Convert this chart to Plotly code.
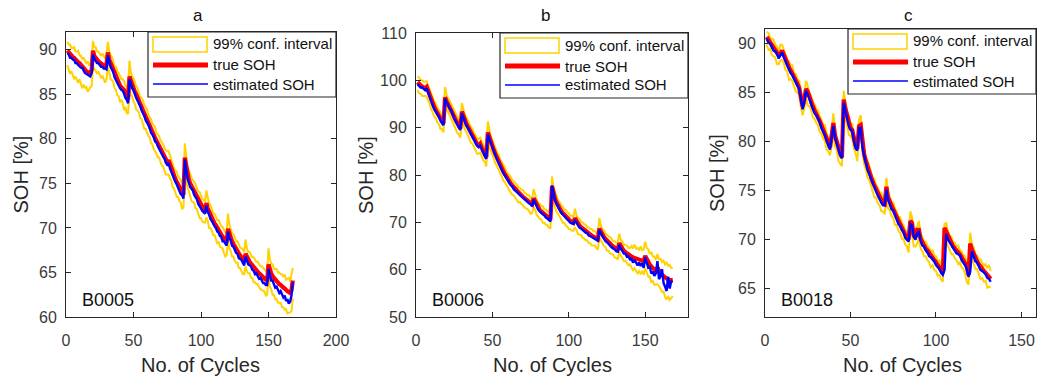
import plotly.graph_objects as go

W, H = 1038, 379
FONT = "Liberation Sans, Arial, sans-serif"
AXIS_COLOR = "#262626"
YELLOW = "#FFD200"

# ---------------- B0005 ----------------
soh_true_a = [
    89.9, 89.7, 89.5, 89.4, 89.2, 89.1, 88.9, 88.8, 88.6, 88.5,
    88.3, 88.2, 88.0, 87.8, 87.6, 87.5, 87.4, 87.4, 87.7, 89.9,
    89.3, 89.0, 88.9, 88.7, 88.6, 88.5, 88.4, 88.2, 88.1, 88.3,
    89.7, 88.9, 88.5, 88.1, 87.7, 87.3, 86.9, 86.6, 86.3, 86.0,
    85.8, 85.6, 85.5, 85.1, 84.7, 84.4, 87.0, 86.5, 86.1, 85.7,
    85.3, 85.0, 84.6, 84.3, 83.9, 83.6, 83.2, 82.9, 82.5, 82.2,
    81.8, 81.5, 81.1, 80.8, 80.5, 80.1, 79.8, 79.5, 79.2, 78.9,
    78.6, 78.3, 78.0, 77.7, 77.4, 77.6, 77.1, 76.6, 76.2, 75.8,
    75.5, 75.2, 74.9, 74.6, 74.3, 74.0, 73.7, 77.9, 76.8, 75.9,
    75.4, 75.0, 74.7, 74.4, 74.1, 73.8, 73.5, 73.1, 72.8, 72.5,
    72.3, 72.1, 71.9, 72.8, 72.2, 71.8, 71.5, 71.1, 70.8, 70.5,
    70.3, 70.0, 69.8, 69.5, 69.3, 69.0, 68.8, 68.6, 68.4, 69.9,
    69.3, 68.9, 68.5, 68.2, 67.9, 67.6, 67.4, 67.1, 66.9, 66.7,
    66.5, 66.3, 67.1, 66.7, 66.4, 66.2, 66.0, 65.8, 65.6, 65.4,
    65.3, 65.1, 64.9, 64.8, 64.6, 64.5, 64.3, 64.2, 64.0, 65.9,
    65.3, 64.9, 64.6, 64.4, 64.2, 64.0, 63.9, 63.7, 63.6, 63.4,
    63.3, 63.2, 63.0, 62.9, 62.8, 62.7, 63.0, 64.1,
]
# estimation error (estimated - true)
est_err_a = [
    -0.3, -0.2, -0.4, -0.3, -0.3, -0.2, -0.4, -0.3, -0.3, -0.4,
    -0.3, -0.2, -0.3, -0.4, -0.3, -0.3, -0.2, -0.4, -0.3, -0.4,
    -0.3, -0.3, -0.4, -0.2, -0.3, -0.4, -0.3, -0.3, -0.2, -0.5,
    -0.3, -0.3, -0.4, -0.3, -0.2, -0.4, -0.3, -0.3, -0.4, -0.3,
    -0.3, -0.2, -0.4, -0.5, -0.3, -0.4, -0.3, -0.3, -0.4, -0.2,
    -0.3, -0.4, -0.3, -0.3, -0.2, -0.4, -0.3, -0.3, -0.4, -0.3,
    -0.2, -0.3, -0.4, -0.3, -0.3, -0.4, -0.2, -0.3, -0.3, -0.4,
    -0.3, -0.3, -0.2, -0.4, -0.3, -0.3, -0.4, -0.3, -0.2, -0.4,
    -0.3, -0.3, -0.4, -0.3, -0.5, -0.3, -0.4, -0.2, -0.4, -0.3,
    -0.3, -0.4, -0.3, -0.2, -0.4, -0.3, -0.3, -0.4, -0.3, -0.3,
    -0.4, -0.3, -0.3, -0.3, -0.4, -0.3, -0.5, -0.3, -0.4, -0.3,
    -0.3, -0.4, -0.3, -0.4, -0.3, -0.5, -0.3, -0.4, -0.4, -0.3,
    -0.4, -0.3, -0.5, -0.3, -0.4, -0.4, -0.3, -0.5, -0.4, -0.3,
    -0.4, -0.5, -0.3, -0.4, -0.5, -0.4, -0.3, -0.5, -0.4, -0.6,
    -0.4, -0.5, -0.6, -0.4, -0.5, -0.7, -0.5, -0.6, -0.4, -0.5,
    -0.6, -0.8, -0.5, -0.7, -0.9, -0.6, -0.8, -1.0, -0.7, -0.9,
    -1.1, -0.8, -1.2, -0.9, -1.3, -1.0, -0.6, -0.2,
]
# 99% interval bounds, distance above / below the true curve
ci_up_a = [
    1.0, 0.9, 1.1, 0.8, 1.0, 1.2, 0.9, 1.0, 1.3, 0.9,
    1.0, 0.8, 1.1, 1.0, 0.9, 1.2, 0.9, 1.0, 1.4, 1.1,
    1.0, 1.3, 0.9, 1.1, 1.0, 0.8, 1.2, 1.0, 0.9, 1.3,
    1.2, 1.0, 0.9, 1.1, 1.0, 0.8, 1.2, 0.9, 1.1, 1.0,
    0.9, 1.1, 1.0, 0.9, 1.2, 1.0, 1.8, 1.0, 0.9, 1.1,
    1.0, 0.9, 1.1, 1.0, 0.8, 1.0, 1.1, 0.9, 1.0, 1.1,
    0.9, 1.0, 1.1, 0.9, 1.0, 1.2, 0.9, 1.0, 1.1, 0.9,
    1.0, 1.1, 0.9, 1.0, 1.2, 1.0, 0.9, 1.1, 1.0, 0.9,
    1.0, 1.1, 0.9, 1.0, 1.1, 1.0, 1.0, 1.6, 1.1, 0.9,
    1.0, 1.1, 0.9, 1.0, 1.0, 1.1, 0.9, 1.0, 1.2, 1.0,
    0.9, 1.1, 1.0, 1.4, 1.0, 0.9, 1.1, 1.0, 0.9, 1.1,
    1.0, 0.9, 1.1, 1.0, 0.9, 1.1, 1.0, 0.9, 1.0, 1.7,
    1.1, 1.0, 0.9, 1.1, 1.0, 0.9, 1.1, 1.0, 0.9, 1.0,
    1.1, 1.0, 1.6, 1.0, 0.9, 1.1, 1.0, 0.9, 1.1, 1.0,
    0.9, 1.1, 1.0, 0.9, 1.1, 1.0, 1.1, 0.9, 1.0, 1.8,
    1.2, 1.1, 1.3, 1.0, 1.2, 1.4, 1.1, 1.3, 1.2, 1.4,
    1.3, 1.5, 1.2, 1.4, 1.6, 1.3, 1.8, 1.4,
]
ci_lo_a = [
    1.6, 1.9, 2.2, 1.8, 2.0, 2.4, 1.9, 2.1, 2.3, 1.8,
    2.0, 2.5, 1.9, 2.1, 1.7, 2.2, 1.9, 1.6, 1.8, 1.7,
    1.5, 1.3, 1.6, 1.2, 1.4, 1.7, 1.3, 1.5, 1.8, 1.6,
    1.6, 1.4, 1.8, 1.5, 1.3, 1.6, 1.4, 1.7, 1.5, 1.9,
    1.4, 1.6, 2.3, 1.5, 1.8, 1.6, 1.4, 1.6, 1.3, 1.5,
    1.4, 1.7, 1.5, 1.3, 1.6, 1.4, 1.5, 1.8, 1.4, 1.6,
    1.5, 1.3, 1.6, 1.4, 1.7, 1.5, 1.4, 1.6, 1.3, 1.5,
    1.6, 1.4, 1.5, 1.7, 1.4, 1.6, 1.5, 1.3, 1.6, 1.4,
    1.5, 1.7, 1.4, 1.6, 1.5, 1.9, 1.4, 1.5, 1.6, 1.3,
    1.5, 1.4, 1.7, 1.5, 1.3, 1.6, 1.4, 1.5, 1.7, 1.4,
    1.6, 1.5, 1.3, 1.6, 1.4, 1.8, 1.5, 1.4, 1.6, 1.3,
    1.5, 1.7, 1.4, 1.6, 1.5, 1.3, 1.6, 1.8, 1.5, 1.4,
    1.6, 1.5, 1.7, 1.4, 1.6, 1.5, 1.3, 1.6, 1.4, 1.5,
    1.7, 1.5, 1.4, 1.6, 1.5, 1.3, 1.6, 1.4, 1.7, 1.5,
    1.6, 1.4, 1.5, 1.7, 1.5, 1.6, 1.4, 1.8, 1.5, 1.4,
    1.9, 1.8, 2.1, 1.9, 2.2, 2.0, 2.3, 2.1, 2.0, 2.3,
    2.2, 2.4, 2.1, 2.5, 2.3, 2.1, 2.4, 2.0,
]

# ---------------- B0006 ----------------
soh_true_b = [
    99.6, 99.2, 98.9, 98.7, 98.5, 98.3, 98.6, 97.6, 96.6, 95.8,
    95.0, 94.3, 93.7, 93.0, 92.5, 91.9, 91.4, 90.9, 96.4, 95.6,
    95.0, 94.4, 93.9, 93.0, 92.3, 91.6, 91.0, 90.4, 89.8, 93.4,
    92.4, 91.6, 90.8, 90.2, 89.5, 88.9, 88.3, 87.7, 87.1, 86.5,
    86.2, 86.6, 85.8, 85.1, 84.5, 83.7, 89.0, 87.9, 86.9, 86.0,
    85.2, 84.4, 83.6, 82.9, 82.2, 81.5, 80.9, 80.3, 79.7, 79.1,
    78.7, 78.2, 77.8, 77.4, 77.0, 76.6, 76.3, 76.0, 75.7, 75.4,
    75.1, 74.8, 74.5, 74.3, 74.0, 73.8, 75.1, 74.4, 73.5, 73.0,
    72.6, 72.3, 72.0, 71.7, 71.4, 71.1, 70.8, 70.6, 77.6, 76.0,
    75.0, 74.2, 73.5, 72.9, 72.4, 72.0, 71.6, 71.2, 70.9, 70.6,
    70.3, 70.1, 69.9, 70.9, 70.2, 69.7, 69.3, 69.0, 68.7, 68.4,
    68.1, 67.9, 67.6, 67.4, 67.2, 67.0, 66.8, 66.6, 66.5, 68.7,
    68.0, 67.4, 66.9, 66.5, 66.1, 65.8, 65.5, 65.2, 64.9, 64.6,
    64.4, 64.2, 65.6, 64.9, 64.4, 64.0, 63.7, 63.4, 63.2, 63.0,
    62.8, 62.6, 62.5, 62.3, 62.2, 62.1, 62.0, 61.9, 61.8, 62.9,
    62.2, 61.6, 61.1, 60.7, 60.3, 60.0, 59.7, 60.4, 59.6, 59.2,
    58.9, 58.6, 58.3, 58.1, 57.9, 57.8, 57.8, 57.8,
]
est_err_b = [
    -0.4, -0.3, -0.4, -0.2, -0.3, -0.4, -0.3, -0.3, -0.4, -0.2,
    -0.3, -0.4, -0.3, -0.3, -0.2, -0.4, -0.3, -0.4, -0.3, -0.3,
    -0.4, -0.3, -0.2, -0.4, -0.3, -0.3, -0.4, -0.3, -0.3, -0.4,
    -0.3, -0.2, -0.4, -0.3, -0.3, -0.4, -0.3, -0.2, -0.4, -0.3,
    -0.3, -0.4, -0.3, -0.3, -0.4, -0.3, -0.4, -0.3, -0.3, -0.2,
    -0.4, -0.3, -0.3, -0.4, -0.3, -0.2, -0.4, -0.3, -0.3, -0.4,
    -0.3, -0.3, -0.2, -0.4, -0.3, -0.3, -0.4, -0.3, -0.2, -0.4,
    -0.3, -0.3, -0.4, -0.3, -0.2, -0.4, -0.3, -0.3, -0.4, -0.3,
    -0.3, -0.4, -0.3, -0.2, -0.4, -0.3, -0.3, -0.4, 0.2, -0.3,
    -0.4, -0.3, -0.3, -0.2, -0.4, -0.3, -0.3, -0.4, -0.3, -0.3,
    -0.4, -0.3, -0.2, -0.4, -0.3, -0.3, -0.4, -0.3, -0.3, -0.4,
    -0.3, -0.2, -0.4, -0.3, -0.3, -0.4, -0.3, -0.3, -0.4, -0.3,
    -0.4, -0.3, -0.3, -0.5, -0.3, -0.4, -0.3, -0.5, -0.4, -0.3,
    -0.5, -0.4, -0.3, -0.5, -0.4, -0.6, -0.3, -0.7, -0.4, -0.8,
    -0.5, -1.1, -0.4, -0.9, -1.3, -0.6, -1.2, -0.5, -1.4, -0.3,
    -0.8, -1.2, -0.5, -1.5, -0.7, -1.3, -0.4, 1.4, -1.6, -0.6,
    1.2, -1.4, -1.9, -2.6, 0.6, -1.8, -0.3, -0.4,
]
ci_up_b = [
    1.2, 1.4, 1.1, 1.3, 1.2, 1.5, 1.2, 1.3, 1.4, 1.1,
    1.3, 1.2, 1.4, 1.1, 1.3, 1.2, 1.5, 1.2, 2.2, 1.3,
    1.2, 1.4, 1.1, 1.3, 1.2, 1.4, 1.1, 1.3, 1.2, 1.8,
    1.3, 1.2, 1.4, 1.1, 1.3, 1.2, 1.4, 1.1, 1.3, 1.2,
    1.4, 1.3, 1.1, 1.3, 1.2, 1.4, 2.3, 1.3, 1.2, 1.4,
    1.1, 1.3, 1.2, 1.4, 1.1, 1.3, 1.2, 1.4, 1.1, 1.3,
    1.2, 1.4, 1.1, 1.3, 1.2, 1.4, 1.1, 1.3, 1.2, 1.4,
    1.1, 1.3, 1.2, 1.4, 1.1, 1.3, 1.9, 1.2, 1.3, 1.1,
    1.3, 1.2, 1.4, 1.1, 1.3, 1.2, 1.4, 1.1, 2.1, 1.4,
    1.2, 1.3, 1.1, 1.4, 1.2, 1.3, 1.1, 1.4, 1.2, 1.3,
    1.1, 1.3, 1.2, 2.0, 1.3, 1.2, 1.4, 1.1, 1.3, 1.2,
    1.4, 1.1, 1.3, 1.2, 1.4, 1.1, 1.3, 1.2, 1.4, 2.2,
    1.3, 1.2, 1.4, 1.1, 1.3, 1.2, 1.4, 1.3, 1.2, 1.4,
    1.3, 1.5, 2.0, 1.4, 1.6, 1.3, 1.5, 1.7, 1.4, 1.6,
    2.2, 1.9, 2.8, 2.1, 2.4, 2.0, 2.9, 2.2, 2.5, 3.0,
    2.4, 2.7, 2.2, 3.0, 2.5, 2.8, 2.3, 2.9, 2.6, 3.1,
    2.7, 3.3, 2.8, 3.4, 2.9, 3.2, 2.6, 2.4,
]
ci_lo_b = [
    1.6, 1.9, 1.7, 2.0, 1.8, 1.6, 2.1, 1.8, 1.7, 1.9,
    1.8, 2.0, 1.7, 1.9, 1.8, 2.2, 1.7, 1.9, 1.8, 1.6,
    1.9, 1.7, 2.0, 1.8, 1.9, 1.7, 2.1, 1.8, 1.9, 1.7,
    1.8, 2.0, 1.7, 1.9, 1.8, 2.1, 1.7, 1.9, 1.8, 2.0,
    1.7, 1.9, 1.8, 2.0, 1.7, 1.9, 1.8, 2.1, 1.7, 1.9,
    1.8, 2.0, 1.7, 1.9, 1.8, 1.7, 2.0, 1.8, 1.9, 1.7,
    1.9, 1.8, 2.0, 1.7, 1.9, 1.8, 2.1, 1.7, 1.9, 1.8,
    2.0, 1.8, 1.7, 1.9, 2.2, 1.8, 1.9, 1.7, 2.0, 1.8,
    1.9, 1.7, 2.1, 1.8, 1.9, 1.7, 2.0, 1.8, 2.4, 1.9,
    1.8, 2.0, 1.7, 1.9, 1.8, 2.1, 1.7, 1.9, 1.8, 2.0,
    1.8, 1.9, 1.7, 2.0, 1.8, 2.2, 1.9, 1.7, 2.0, 1.8,
    1.9, 1.7, 2.0, 1.8, 2.1, 1.9, 1.7, 2.0, 2.3, 1.9,
    1.8, 2.0, 1.9, 1.7, 2.1, 1.8, 2.0, 1.9, 1.7, 2.0,
    1.9, 2.1, 1.8, 2.0, 1.9, 2.2, 1.8, 2.0, 2.3, 1.9,
    2.3, 2.7, 2.2, 2.6, 3.0, 2.4, 2.8, 2.3, 2.9, 2.5,
    2.8, 3.1, 2.6, 3.3, 2.7, 3.2, 2.9, 3.5, 3.0, 3.4,
    3.6, 3.2, 4.1, 4.4, 3.5, 4.2, 3.7, 3.4,
]

# ---------------- B0018 ----------------
soh_true_c = [
    90.7, 90.4, 90.2, 89.9, 89.6, 89.4, 89.1, 88.8, 89.0, 89.3,
    88.9, 88.4, 88.0, 87.6, 87.3, 87.0, 86.6, 86.3, 85.9, 85.5,
    84.6, 83.6, 84.3, 85.4, 85.1, 84.5, 84.0, 83.6, 83.2, 82.9,
    82.5, 82.1, 81.7, 81.3, 80.9, 80.4, 79.9, 79.4, 80.6, 81.9,
    80.6, 79.9, 79.3, 78.8, 78.4, 84.3, 83.4, 82.6, 81.9, 81.4,
    81.2, 80.3, 79.6, 79.3, 81.6, 81.7, 79.6, 78.7, 78.0, 77.4,
    76.9, 76.4, 75.9, 75.5, 75.1, 74.7, 74.4, 74.0, 73.7, 73.6,
    75.4, 74.3, 73.8, 73.4, 73.1, 72.7, 72.3, 71.9, 71.6, 71.2,
    70.9, 70.5, 70.2, 70.0, 71.9, 71.7, 70.4, 70.2, 71.0, 71.0,
    70.1, 69.7, 69.4, 69.1, 68.9, 68.6, 68.4, 68.2, 67.9, 67.7,
    67.4, 67.2, 66.9, 66.6, 71.2, 70.8, 70.3, 69.9, 69.6, 69.3,
    69.1, 68.8, 68.7, 68.5, 68.2, 67.9, 67.6, 67.3, 66.4, 69.6,
    69.0, 68.5, 68.1, 67.8, 67.5, 67.2, 67.0, 66.8, 66.6, 66.4,
    66.2, 66.0,
]
est_err_c = [
    -0.2, -0.3, -0.2, -0.2, -0.3, -0.2, -0.1, -0.3, -0.2, -0.2,
    -0.3, -0.2, -0.2, -0.1, -0.3, -0.2, -0.2, -0.3, -0.2, -0.1,
    -0.2, -0.3, -0.2, -0.2, -0.3, -0.1, -0.2, -0.2, -0.3, -0.2,
    -0.2, -0.1, -0.3, -0.2, -0.2, -0.3, -0.2, -0.2, -0.1, -0.3,
    -0.2, -0.2, -0.3, -0.2, -0.1, -0.3, -0.2, -0.2, -0.3, -0.2,
    -0.1, -0.2, -0.3, -0.2, -0.2, -0.3, -0.2, -0.1, -0.2, -0.3,
    -0.2, -0.2, -0.1, -0.3, -0.2, -0.2, -0.3, -0.2, -0.2, -0.1,
    -0.3, -0.2, -0.2, -0.3, -0.1, -0.2, -0.2, -0.3, -0.2, -0.2,
    -0.1, -0.3, -0.2, -0.2, -0.3, -0.2, -0.1, -0.2, -0.3, -0.2,
    -0.2, -0.3, -0.1, -0.2, -0.2, -0.3, -0.2, -0.2, -0.1, -0.3,
    -0.2, -0.2, -0.3, -0.2, -4.3, -0.2, -0.3, -0.2, -0.1, -0.2,
    -0.3, -0.2, -0.2, -0.1, -0.3, -0.2, -0.2, -0.3, -0.2, -2.9,
    -0.2, -0.2, -0.3, -0.1, -0.2, -0.3, -0.2, -0.2, -0.1, -0.3,
    -0.2, -0.3,
]
ci_up_c = [
    0.5, 0.7, 0.4, 0.6, 0.8, 0.5, 0.6, 0.4, 0.9, 0.6,
    0.5, 0.7, 0.4, 0.6, 0.5, 0.8, 0.4, 0.6, 0.5, 0.7,
    0.4, 0.6, 0.5, 0.8, 0.6, 0.4, 0.7, 0.5, 0.6, 0.4,
    0.7, 0.5, 0.6, 0.4, 0.8, 0.5, 0.6, 0.4, 0.7, 1.0,
    0.5, 0.6, 0.4, 0.7, 0.5, 0.9, 0.6, 0.4, 0.7, 0.5,
    0.6, 0.4, 0.5, 0.7, 0.6, 1.0, 0.5, 0.6, 0.4, 0.7,
    0.5, 0.6, 0.4, 0.7, 0.5, 0.6, 0.4, 0.8, 0.5, 0.6,
    0.9, 0.5, 0.6, 0.4, 0.7, 0.5, 0.6, 0.4, 0.7, 0.5,
    0.6, 0.4, 0.7, 0.5, 1.0, 0.6, 0.4, 0.7, 0.5, 0.9,
    0.5, 0.6, 0.4, 0.7, 0.5, 0.6, 0.4, 0.7, 0.5, 0.6,
    0.4, 0.7, 0.5, 0.6, 0.4, 0.9, 0.6, 0.5, 0.7, 0.4,
    0.6, 0.5, 0.7, 0.4, 0.6, 0.5, 0.7, 0.4, 0.6, 1.1,
    0.5, 0.7, 0.4, 0.6, 0.5, 0.8, 0.6, 0.5, 0.9, 0.7,
    1.2, 0.8,
]
ci_lo_c = [
    0.8, 1.0, 0.7, 1.1, 0.9, 0.8, 1.2, 0.9, 0.7, 1.0,
    0.9, 1.1, 0.8, 1.3, 0.9, 0.8, 1.0, 1.2, 0.9, 0.8,
    1.1, 0.9, 0.8, 1.0, 1.4, 0.9, 0.8, 1.1, 0.9, 1.0,
    0.8, 1.1, 0.9, 1.0, 0.8, 1.2, 0.9, 0.8, 1.0, 0.9,
    1.1, 0.8, 1.3, 1.0, 0.9, 0.8, 1.1, 0.9, 1.2, 0.8,
    0.9, 1.0, 0.8, 1.3, 0.9, 1.1, 0.8, 1.0, 0.9, 1.1,
    0.8, 1.0, 0.9, 1.2, 0.8, 1.0, 0.9, 1.1, 0.8, 1.0,
    0.9, 1.1, 0.8, 1.0, 0.9, 1.2, 0.8, 1.0, 0.9, 1.1,
    0.8, 1.0, 0.9, 1.3, 0.8, 1.0, 1.1, 0.9, 1.4, 0.8,
    1.0, 0.9, 1.1, 0.8, 1.0, 0.9, 1.2, 0.8, 1.0, 0.9,
    1.1, 0.8, 1.0, 0.9, 1.2, 0.8, 1.0, 0.9, 1.1, 0.8,
    1.0, 0.9, 1.2, 0.8, 1.0, 0.9, 1.1, 1.6, 1.0, 0.8,
    1.0, 0.9, 1.1, 0.8, 1.0, 1.2, 0.9, 1.1, 0.8, 1.3,
    1.0, 0.9,
]

panel_titles = ["a", "b", "c"]
battery_ids = ["B0005", "B0006", "B0018"]
legend_labels = ["99% conf. interval", "true SOH", "estimated SOH"]
x_label = "No. of Cycles"
y_label = "SOH [%]"

x_ranges = [[0, 200], [0, 178], [0, 158.5]]
x_ticks = [[0, 50, 100, 150, 200], [0, 50, 100, 150], [0, 50, 100, 150]]
y_ranges = [[60, 92], [50, 110], [62.1, 91.5]]
y_ticks = [[60, 65, 70, 75, 80, 85, 90], [50, 60, 70, 80, 90, 100, 110],
           [65, 70, 75, 80, 85, 90]]

# plot-area boxes in pixels: left, right, top, bottom
boxes = [(66, 336, 32, 317), (416, 688, 33, 317), (765, 1036, 29, 317)]
title_x = [198, 545, 908]
ylabel_x = [20, 366, 717]
xlabel_x = [200, 552, 902]


def px(x):
    return x / W


def py(y):
    return 1 - y / H


def label(x, y, text, size, color="#111111", xanchor="center", angle=0):
    return dict(x=px(x), y=py(y), xref="paper", yref="paper", text=text,
                showarrow=False, xanchor=xanchor, yanchor="middle", textangle=angle,
                font=dict(family=FONT, size=size, color=color))


panels = [
    (soh_true_a, est_err_a, ci_up_a, ci_lo_a),
    (soh_true_b, est_err_b, ci_up_b, ci_lo_b),
    (soh_true_c, est_err_c, ci_up_c, ci_lo_c),
]

fig = go.Figure()
layout = dict(
    template="none",
    width=W, height=H, autosize=False,
    margin=dict(l=0, r=0, t=0, b=0, pad=0, autoexpand=False),
    paper_bgcolor="white", plot_bgcolor="white",
    showlegend=False,
    font=dict(family=FONT, color=AXIS_COLOR),
)
shapes = []
annotations = []

for i, (true, err, up, lo) in enumerate(panels):
    n = i + 1
    xa = "x" if n == 1 else f"x{n}"
    ya = "y" if n == 1 else f"y{n}"
    cycles = list(range(1, len(true) + 1))
    est = [t + e for t, e in zip(true, err)]
    upper = [t + u for t, u in zip(true, up)]
    lower = [t - l for t, l in zip(true, lo)]

    for band in (upper, lower):
        fig.add_trace(go.Scatter(x=cycles, y=band, mode="lines", xaxis=xa, yaxis=ya,
                                 line=dict(color=YELLOW, width=2.0), hoverinfo="skip"))
    fig.add_trace(go.Scatter(x=cycles, y=true, mode="lines", xaxis=xa, yaxis=ya,
                             line=dict(color="#FF0000", width=4.2)))
    fig.add_trace(go.Scatter(x=cycles, y=est, mode="lines", xaxis=xa, yaxis=ya,
                             line=dict(color="#0000FF", width=2.4)))

    L, R, T, B = boxes[i]
    common = dict(
        ticks="inside", ticklen=5, tickwidth=1, tickcolor=AXIS_COLOR,
        showline=True, linecolor=AXIS_COLOR, linewidth=1, mirror="ticks",
        showgrid=False, zeroline=False, automargin=False,
        tickfont=dict(family=FONT, size=16, color="#3a3a3a"),
    )
    layout["xaxis" if n == 1 else f"xaxis{n}"] = dict(
        domain=[px(L), px(R)], range=x_ranges[i], tickvals=x_ticks[i],
        anchor=ya, ticklabelstandoff=9, **common)
    layout["yaxis" if n == 1 else f"yaxis{n}"] = dict(
        domain=[py(B), py(T)], range=y_ranges[i], tickvals=y_ticks[i],
        anchor=xa, ticklabelstandoff=5, **common)

    # titles and labels
    annotations.append(label(title_x[i], 15, panel_titles[i], 17))
    annotations.append(label(xlabel_x[i], 365, x_label, 20, AXIS_COLOR))
    annotations.append(label(ylabel_x[i], (T + B) / 2, y_label, 20, AXIS_COLOR,
                             angle=-90))
    annotations.append(label(L + 14, 300, battery_ids[i], 18, xanchor="left"))

    # legend box in the upper right corner
    lr, lt = R, T
    ll, lb = R - 188, T + 65
    shapes.append(dict(type="rect", xref="paper", yref="paper",
                       x0=px(ll), x1=px(lr), y0=py(lb), y1=py(lt),
                       fillcolor="white", line=dict(color=AXIS_COLOR, width=1.2)))
    shapes.append(dict(type="rect", xref="paper", yref="paper",
                       x0=px(ll + 5), x1=px(ll + 59), y0=py(lt + 20), y1=py(lt + 5),
                       fillcolor="white", line=dict(color=YELLOW, width=1.5)))
    shapes.append(dict(type="line", xref="paper", yref="paper",
                       x0=px(ll + 5), x1=px(ll + 60), y0=py(lt + 33), y1=py(lt + 33),
                       line=dict(color="#FF0000", width=5)))
    shapes.append(dict(type="line", xref="paper", yref="paper",
                       x0=px(ll + 5), x1=px(ll + 60), y0=py(lt + 52), y1=py(lt + 52),
                       line=dict(color="#0000FF", width=1.6)))
    for k, ty in enumerate((12, 33, 52)):
        annotations.append(label(ll + 63, lt + ty, legend_labels[k], 15, xanchor="left"))

layout["shapes"] = shapes
layout["annotations"] = annotations
fig.update_layout(**layout)
fig.write_html("out.html")
